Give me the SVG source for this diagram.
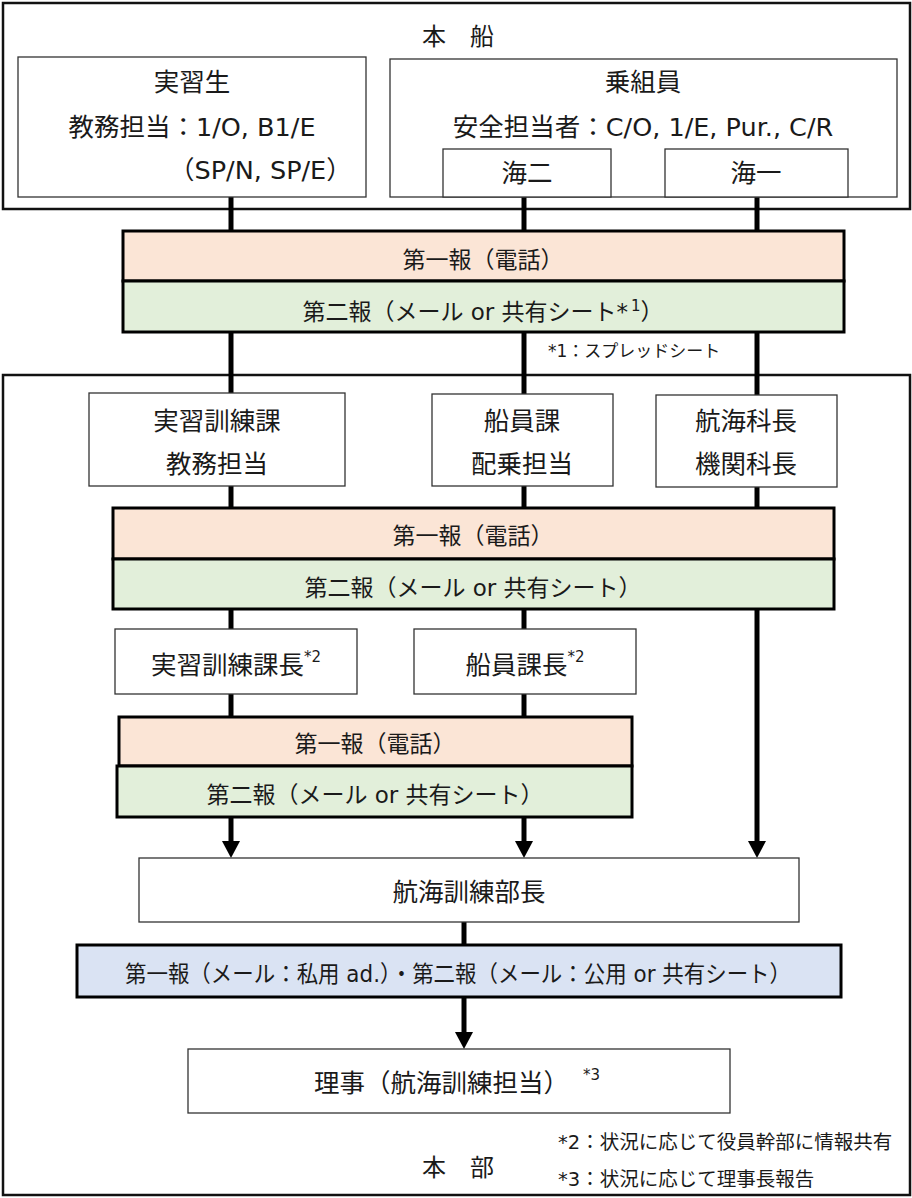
<svg xmlns="http://www.w3.org/2000/svg" width="912" height="1198" viewBox="0 0 912 1198">
<defs>
<style>
text{font-family:"DejaVu Sans","Noto Sans CJK JP",sans-serif;fill:#1a1a1a}
.c{text-anchor:middle}
.t{font-size:24px}
.b{font-size:25.5px}
.k{font-size:23px}
.n{font-size:17px}
.f{font-size:19.5px}
.sup{font-size:15px}
.box{fill:#fff;stroke:#333;stroke-width:1.3}
.outer{fill:#fff;stroke:#111;stroke-width:2.5}
.pink{fill:#FBE5D6;stroke:#000;stroke-width:3}
.green{fill:#E2EFDA;stroke:#000;stroke-width:3}
.blue{fill:#DAE3F3;stroke:#000;stroke-width:3}
.ln{stroke:#000;stroke-width:5;fill:none}
</style>
<marker id="ah" markerUnits="userSpaceOnUse" viewBox="0 -9 17 18" refX="0" refY="0" markerWidth="17" markerHeight="18" orient="auto"><path d="M0,-9L17,0L0,9z" fill="#000"/></marker>
</defs>
<rect width="912" height="1198" fill="#fff"/>

<g id="ship">
<rect class="outer" x="3" y="3" width="907" height="206"/>
<text class="t c" x="458" y="45">本　船</text>
</g>
<g id="honbu">
<rect class="outer" x="3" y="375" width="907" height="820"/>
<text class="t c" x="458" y="1176">本　部</text>
</g>

<g id="connectors">
<line class="ln" x1="231" y1="197" x2="231" y2="231"/>
<line class="ln" x1="524" y1="197" x2="524" y2="231"/>
<line class="ln" x1="757" y1="197" x2="757" y2="231"/>
<line class="ln" x1="231" y1="332" x2="231" y2="393"/>
<line class="ln" x1="524" y1="332" x2="524" y2="394"/>
<line class="ln" x1="757" y1="332" x2="757" y2="395"/>
<line class="ln" x1="231" y1="486" x2="231" y2="508"/>
<line class="ln" x1="524" y1="486" x2="524" y2="508"/>
<line class="ln" x1="757" y1="487" x2="757" y2="508"/>
<line class="ln" x1="231" y1="609" x2="231" y2="629"/>
<line class="ln" x1="524" y1="609" x2="524" y2="629"/>
<line class="ln" x1="757" y1="609" x2="757" y2="841" marker-end="url(#ah)"/>
<line class="ln" x1="231" y1="694" x2="231" y2="717"/>
<line class="ln" x1="524" y1="694" x2="524" y2="717"/>
<line class="ln" x1="231" y1="817" x2="231" y2="841" marker-end="url(#ah)"/>
<line class="ln" x1="524" y1="817" x2="524" y2="841" marker-end="url(#ah)"/>
<line class="ln" x1="464" y1="922" x2="464" y2="945"/>
<line class="ln" x1="464" y1="997" x2="464" y2="1032" marker-end="url(#ah)"/>
</g>

<g id="jisshusei">
<rect class="box" x="18" y="57" width="348" height="140"/>
<text class="b c" x="192" y="91">実習生</text>
<text class="b c" x="192" y="136">教務担当：1/O, B1/E</text>
<text class="b" x="169" y="179">（SP/N, SP/E）</text>
</g>
<g id="norikumiin">
<rect class="box" x="390" y="59" width="507" height="138"/>
<text class="b c" x="643" y="91">乗組員</text>
<text class="b c" x="643" y="136">安全担当者：C/O, 1/E, Pur., C/R</text>
</g>
<g id="kaini">
<rect class="box" x="443" y="149" width="168" height="48"/>
<text class="b c" x="527" y="182">海二</text>
</g>
<g id="kaiichi">
<rect class="box" x="665" y="149" width="183" height="48"/>
<text class="b c" x="756" y="182">海一</text>
</g>

<g id="band1">
<rect class="pink" x="123" y="231" width="721" height="50"/>
<rect class="green" x="123" y="281" width="721" height="51"/>
<text class="k c" x="483" y="268">第一報（電話）</text>
<text class="k c" x="483" y="320">第二報（メール or 共有シート*<tspan class="sup" dx="3" dy="-9">1</tspan><tspan dy="9">）</tspan></text>
</g>
<text class="n" x="548" y="357">*1：スプレッドシート</text>

<g id="kyomu">
<rect class="box" x="89" y="393" width="256" height="93"/>
<text class="b c" x="217" y="430">実習訓練課</text>
<text class="b c" x="217" y="473">教務担当</text>
</g>
<g id="senin">
<rect class="box" x="432" y="394" width="181" height="92"/>
<text class="b c" x="522" y="430">船員課</text>
<text class="b c" x="522" y="473">配乗担当</text>
</g>
<g id="kachou">
<rect class="box" x="656" y="395" width="181" height="92"/>
<text class="b c" x="746" y="430">航海科長</text>
<text class="b c" x="746" y="473">機関科長</text>
</g>

<g id="band2">
<rect class="pink" x="113" y="508" width="721" height="51"/>
<rect class="green" x="113" y="559" width="721" height="50"/>
<text class="k c" x="473" y="544">第一報（電話）</text>
<text class="k c" x="473" y="596">第二報（メール or 共有シート）</text>
</g>

<g id="kunrenkachou">
<rect class="box" x="115" y="629" width="242" height="65"/>
<text class="b c" x="236" y="674">実習訓練課長<tspan class="sup" dy="-12">*2</tspan></text>
</g>
<g id="seninkachou">
<rect class="box" x="414" y="629" width="222" height="65"/>
<text class="b c" x="525" y="674">船員課長<tspan class="sup" dy="-12">*2</tspan></text>
</g>

<g id="band3">
<rect class="pink" x="119" y="717" width="513" height="49"/>
<rect class="green" x="117" y="766" width="515" height="51"/>
<text class="k c" x="375" y="752">第一報（電話）</text>
<text class="k c" x="375" y="803">第二報（メール or 共有シート）</text>
</g>

<g id="buchou">
<rect class="box" x="139" y="858" width="660" height="64"/>
<text class="b c" x="469" y="901">航海訓練部長</text>
</g>

<g id="band4">
<rect class="blue" x="77" y="945" width="764" height="52"/>
<text class="k" x="125" y="982" textLength="666" lengthAdjust="spacingAndGlyphs">第一報（メール：私用 ad.）・第二報（メール：公用 or 共有シート）</text>
</g>

<g id="riji">
<rect class="box" x="188" y="1049" width="542" height="64"/>
<text class="b" x="314" y="1092">理事（航海訓練担当）<tspan class="sup" dx="14" dy="-12">*3</tspan></text>
</g>

<g id="notes">
<text class="f" x="558" y="1149">*2：状況に応じて役員幹部に情報共有</text>
<text class="f" x="558" y="1186">*3：状況に応じて理事長報告</text>
</g>
</svg>
